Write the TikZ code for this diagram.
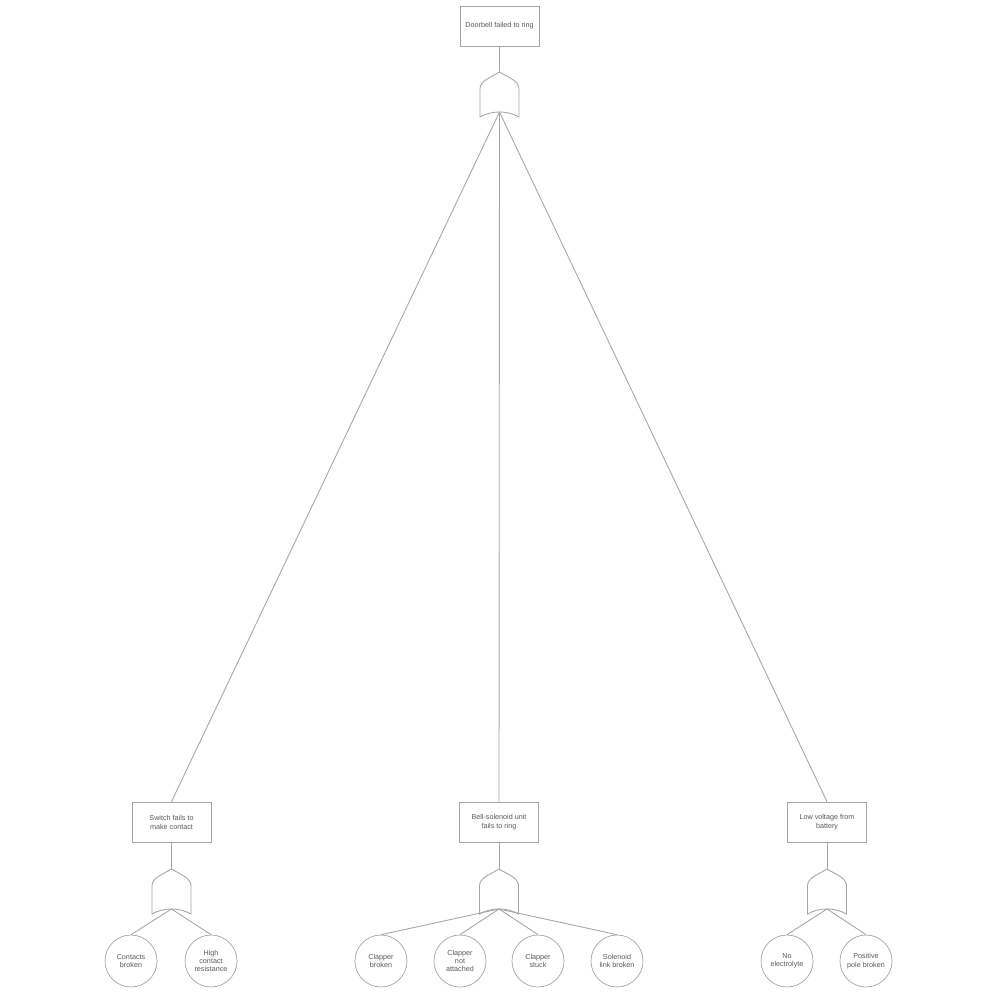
\documentclass[tikz,border=0pt]{standalone}
\usepackage{fontspec}
\setmainfont{Liberation Sans}
\usepackage{tikz}

\tikzset{
  event/.style={draw=gray!70, fill=white, minimum width=1.58cm, minimum height=0.8cm,
    inner sep=0pt, align=center, text=black!65, font=\fontsize{4.1}{5.1}\selectfont},
  basic/.style={draw=gray!70, fill=white, circle, minimum size=1.04cm,
    inner sep=0pt, align=center, text=black!65, font=\fontsize{4.1}{4.7}\selectfont},
  wire/.style={gray!70, line width=0.5pt},
  orgate/.pic={
    \draw[gray!70, fill=white, line width=0.5pt] (0,0) .. controls (-10,6) and (-19.5,9) .. (-19.5,17)
      -- (-19.5,45) .. controls (-8,38.3) and (8,38.3) .. (19.5,45)
      -- (19.5,17) .. controls (19.5,9) and (10,6) .. (0,0) -- cycle;
    \coordinate (-in) at (0,0);
    \coordinate (-out) at (0,40);
  }
}

\begin{document}
\begin{tikzpicture}[x=0.02cm, y=-0.02cm]
    \useasboundingbox (0,0) rectangle (1000,1000);

    % top event
    \node[event] (top) at (499.5,26) {Doorbell failed to ring};
    \pic (g0) at (499.5,72) {orgate};
    \draw[wire] (top.south) -- (g0-in);

    % intermediate events
    \node[event] (sw) at (171.5,822) {Switch fails to\\make contact};
    \node[event] (bell) at (499,822) {Bell-solenoid unit\\fails to ring};
    \node[event] (batt) at (827,822) {Low voltage from\\battery};
    \foreach \n in {sw,bell,batt}{\draw[wire] (g0-out) -- (\n.north);}

    \pic (g1) at (171.5,869) {orgate};
    \pic (g2) at (499,869) {orgate};
    \pic (g3) at (827,869) {orgate};
    \draw[wire] (sw.south) -- (g1-in);
    \draw[wire] (bell.south) -- (g2-in);
    \draw[wire] (batt.south) -- (g3-in);

    % basic events
    \node[basic] (cb) at (131,961) {Contacts\\broken};
    \node[basic] (hc) at (211,961) {High\\contact\\resistance};
    \node[basic] (clb) at (381,961) {Clapper\\broken};
    \node[basic] (cna) at (460,961) {Clapper\\not\\attached};
    \node[basic] (cls) at (538,961) {Clapper\\stuck};
    \node[basic] (slb) at (617,961) {Solenoid\\link broken};
    \node[basic] (ne) at (787,961) {No\\electrolyte};
    \node[basic] (pp) at (866,961) {Positive\\pole broken};

    \foreach \n in {cb,hc}{\draw[wire] (g1-out) -- (\n.north);}
    \foreach \n in {clb,cna,cls,slb}{\draw[wire] (g2-out) -- (\n.north);}
    \foreach \n in {ne,pp}{\draw[wire] (g3-out) -- (\n.north);}
\end{tikzpicture}
\end{document}
